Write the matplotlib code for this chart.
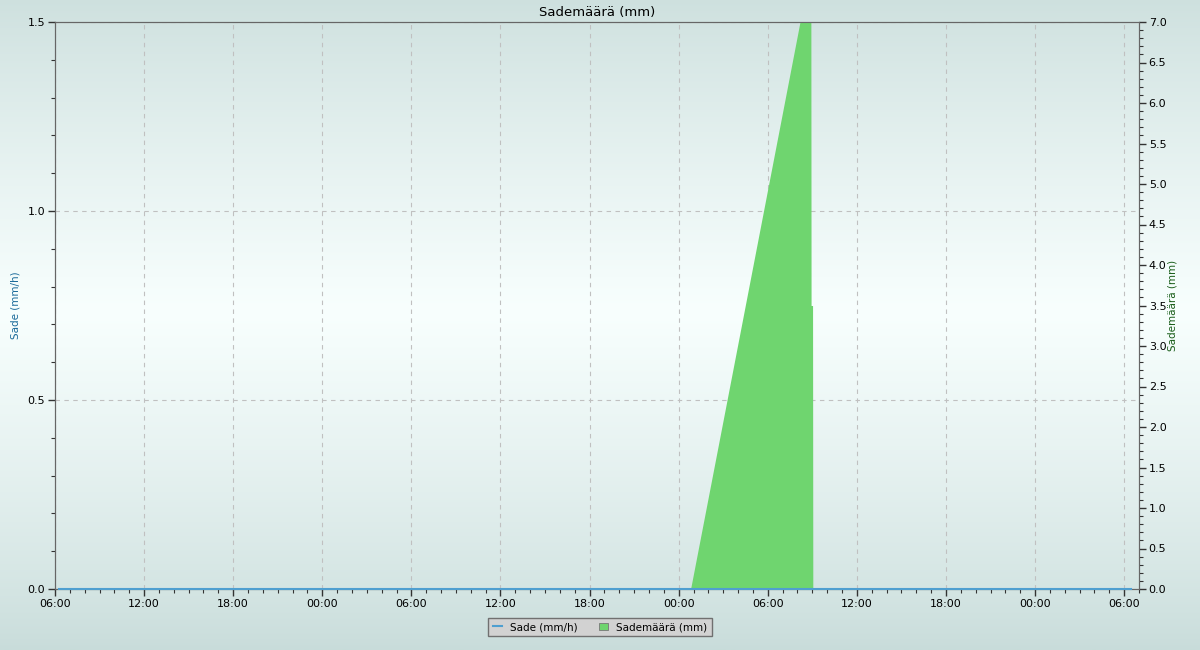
from datetime import datetime
import numpy as np
import matplotlib
matplotlib.use("Agg")
import matplotlib.pyplot as plt
import matplotlib.dates as mdates
from matplotlib.lines import Line2D
from matplotlib.patches import Patch

# Sade (mm/h) - pysyy nollassa koko jakson
rate_times = [datetime(2024, 5, 1, 6, 16), datetime(2024, 5, 4, 6, 28)]
rate_values = [0.0, 0.0]

# Sademäärä (mm), kumulatiivinen
acc_times = [
    datetime(2024, 5, 3, 0, 48), datetime(2024, 5, 3, 1, 0),
    datetime(2024, 5, 3, 2, 0), datetime(2024, 5, 3, 3, 0),
    datetime(2024, 5, 3, 4, 0), datetime(2024, 5, 3, 5, 0),
    datetime(2024, 5, 3, 6, 0), datetime(2024, 5, 3, 7, 0),
    datetime(2024, 5, 3, 8, 0), datetime(2024, 5, 3, 8, 54),
    datetime(2024, 5, 3, 8, 55), datetime(2024, 5, 3, 9, 1),
    datetime(2024, 5, 3, 9, 2),
]
acc_values = [0.0, 0.19, 1.14, 2.09, 3.04, 3.99, 4.94, 5.89, 6.84, 7.7, 3.5, 3.5, 0.0]

x_start = datetime(2024, 5, 1, 6, 0)
x_end = datetime(2024, 5, 4, 7, 0)

W, H = 1200, 650
fig = plt.figure(figsize=(W / 100, H / 100), dpi=100)

# taustan liukuväri
bg = fig.add_axes([0, 0, 1, 1], zorder=-10)
t = np.linspace(0, 1, 300)
w = np.clip(1 - np.abs(t - 0.52) / 0.52, 0, 1) ** 0.8
edge = np.array([200, 220, 218]) / 255
mid = np.array([248, 255, 254]) / 255
grad = edge[None, :] * (1 - w[:, None]) + mid[None, :] * w[:, None]
bg.imshow(grad[:, None, :], aspect="auto", extent=[0, 1, 0, 1], origin="lower")
bg.axis("off")

ax = fig.add_axes([55 / W, 1 - 589 / H, (1139 - 55) / W, (589 - 22) / H])
ax.patch.set_alpha(0)
ax2 = ax.twinx()
ax2.patch.set_alpha(0)

# gridi vasemmalla akselilla (alla), täyttö ja viiva päällä
ax2.fill_between(acc_times, acc_values, 0, color="#6fd56f", lw=0, zorder=2)
ax2.plot(rate_times, rate_values, color="#4f9fd0", lw=1.5, zorder=5, clip_on=False)

ax.set_xlim(x_start, x_end)
ax.set_ylim(0, 1.5)
ax2.set_ylim(0, 7.0)

ax.xaxis.set_major_locator(mdates.HourLocator(byhour=[0, 6, 12, 18]))
ax.xaxis.set_minor_locator(mdates.HourLocator())
ax.xaxis.set_major_formatter(mdates.DateFormatter("%H:%M"))
ax.set_yticks([0, 0.5, 1.0, 1.5])
ax.set_yticks(np.arange(0, 1.51, 0.1), minor=True)
ax.yaxis.set_major_formatter(matplotlib.ticker.FormatStrFormatter("%.1f"))
ax2.set_yticks(np.arange(0, 7.01, 0.5))
ax2.set_yticks(np.arange(0, 7.01, 0.1), minor=True)
ax2.yaxis.set_major_formatter(matplotlib.ticker.FormatStrFormatter("%.1f"))

for a in (ax, ax2):
    a.tick_params(which="major", length=5, width=1, color="#333333", labelsize=8, pad=2)
    a.tick_params(which="minor", length=3, width=0.8, color="#333333")
    for s in a.spines.values():
        s.set_color("#666666")

ax.grid(True, which="major", axis="both", ls=(0, (4, 4)), color="#c0c0c0", lw=0.8)

ax.set_title("Sademäärä (mm)", fontsize=9.5, pad=4)
ax.set_ylabel("Sade (mm/h)", color="#1a6a9a", fontsize=7.5, labelpad=5)
ax2.set_ylabel("Sademäärä (mm)", color="#1a5e1a", fontsize=7.5, labelpad=0.5)

handles = [
    Line2D([0], [0], color="#4f9fd0", lw=1.5),
    Patch(facecolor="#6fd56f", edgecolor="#777777", lw=0.6),
]
leg = fig.legend(handles, ["Sade (mm/h)", "Sademäärä (mm)"], loc="center",
                 bbox_to_anchor=(600 / W, 1 - 627 / H), ncol=2, fontsize=7.5,
                 frameon=True, fancybox=False, handlelength=0.9, handleheight=0.7,
                 columnspacing=2.0, borderpad=0.4)
leg.get_frame().set_facecolor("#d2d2d2")
leg.get_frame().set_edgecolor("#707070")
leg.get_frame().set_alpha(1)

fig.savefig("out.png", dpi=100)
